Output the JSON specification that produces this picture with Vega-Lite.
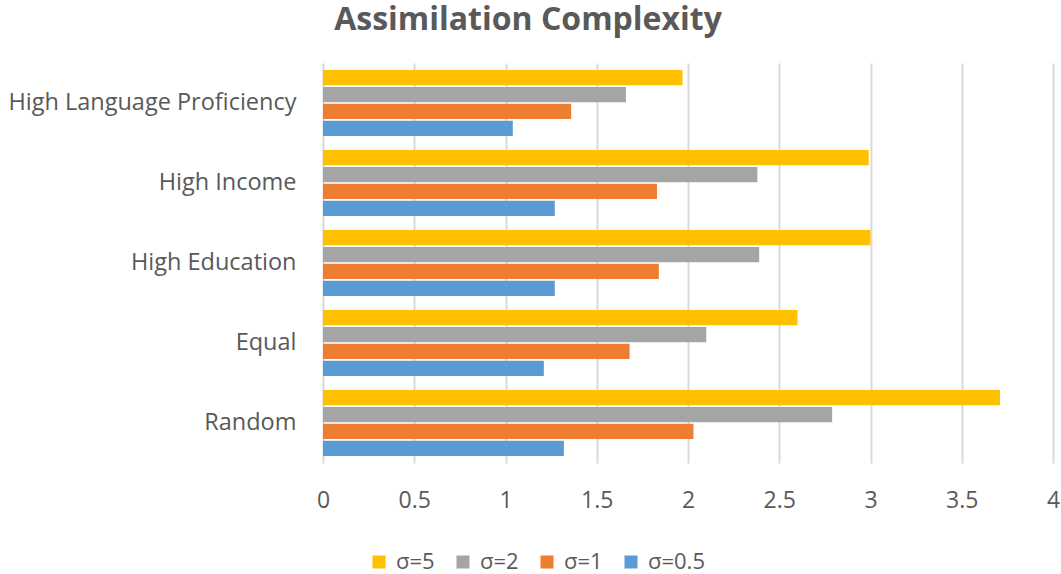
{
  "$schema": "https://vega.github.io/schema/vega-lite/v6.json",
  "width": 730,
  "height": 400,
  "autosize": {"type": "none"},
  "padding": {"left": 323, "top": 63, "right": 8, "bottom": 111},
  "background": "white",
  "title": {
    "text": "Assimilation Complexity",
    "anchor": "middle",
    "dx": -160,
    "offset": 1,
    "baseline": "alphabetic",
    "font": "Open Sans",
    "fontSize": 32,
    "fontWeight": "bold",
    "color": "#595959"
  },
  "data": {
    "values": [
      {"category": "High Language Proficiency", "sigma": "σ=5", "value": 1.97},
      {"category": "High Language Proficiency", "sigma": "σ=2", "value": 1.66},
      {"category": "High Language Proficiency", "sigma": "σ=1", "value": 1.36},
      {"category": "High Language Proficiency", "sigma": "σ=0.5", "value": 1.04},
      {"category": "High Income", "sigma": "σ=5", "value": 2.99},
      {"category": "High Income", "sigma": "σ=2", "value": 2.38},
      {"category": "High Income", "sigma": "σ=1", "value": 1.83},
      {"category": "High Income", "sigma": "σ=0.5", "value": 1.27},
      {"category": "High Education", "sigma": "σ=5", "value": 3.0},
      {"category": "High Education", "sigma": "σ=2", "value": 2.39},
      {"category": "High Education", "sigma": "σ=1", "value": 1.84},
      {"category": "High Education", "sigma": "σ=0.5", "value": 1.27},
      {"category": "Equal", "sigma": "σ=5", "value": 2.6},
      {"category": "Equal", "sigma": "σ=2", "value": 2.1},
      {"category": "Equal", "sigma": "σ=1", "value": 1.68},
      {"category": "Equal", "sigma": "σ=0.5", "value": 1.21},
      {"category": "Random", "sigma": "σ=5", "value": 3.71},
      {"category": "Random", "sigma": "σ=2", "value": 2.79},
      {"category": "Random", "sigma": "σ=1", "value": 2.03},
      {"category": "Random", "sigma": "σ=0.5", "value": 1.32}
    ]
  },
  "mark": {"type": "bar"},
  "encoding": {
    "y": {
      "field": "category",
      "type": "nominal",
      "sort": ["High Language Proficiency", "High Income", "High Education", "Equal", "Random"],
      "scale": {"paddingInner": 0.175, "paddingOuter": 0.0875},
      "axis": {
        "title": null,
        "ticks": false,
        "domain": false,
        "labelPadding": 27,
        "labelFont": "Open Sans",
        "labelFontSize": 23.5,
        "labelColor": "#595959",
        "labelLimit": 400
      }
    },
    "yOffset": {
      "field": "sigma",
      "type": "nominal",
      "sort": ["σ=5", "σ=2", "σ=1", "σ=0.5"],
      "scale": {"paddingInner": 0.1}
    },
    "x": {
      "field": "value",
      "type": "quantitative",
      "scale": {"domain": [0, 4]},
      "axis": {
        "title": null,
        "values": [0, 0.5, 1, 1.5, 2, 2.5, 3, 3.5, 4],
        "format": "~g",
        "grid": true,
        "gridColor": "#d9d9d9",
        "gridWidth": 2,
        "domain": false,
        "ticks": false,
        "labelPadding": 26,
        "labelFont": "Open Sans",
        "labelFontSize": 23,
        "labelColor": "#595959",
        "labelFlush": false
      }
    },
    "color": {
      "field": "sigma",
      "type": "nominal",
      "sort": ["σ=5", "σ=2", "σ=1", "σ=0.5"],
      "scale": {
        "domain": ["σ=5", "σ=2", "σ=1", "σ=0.5"],
        "range": ["#FFC000", "#A5A5A5", "#ED7D31", "#5B9BD5"]
      },
      "legend": {
        "title": null,
        "orient": "none",
        "direction": "horizontal",
        "legendX": 45,
        "legendY": 488,
        "symbolType": "square",
        "symbolSize": 169,
        "symbolStrokeWidth": 0,
        "labelFont": "Open Sans",
        "labelFontSize": 22,
        "labelColor": "#595959",
        "labelOffset": 6,
        "columnPadding": 17
      }
    }
  },
  "config": {"view": {"stroke": null}}
}
